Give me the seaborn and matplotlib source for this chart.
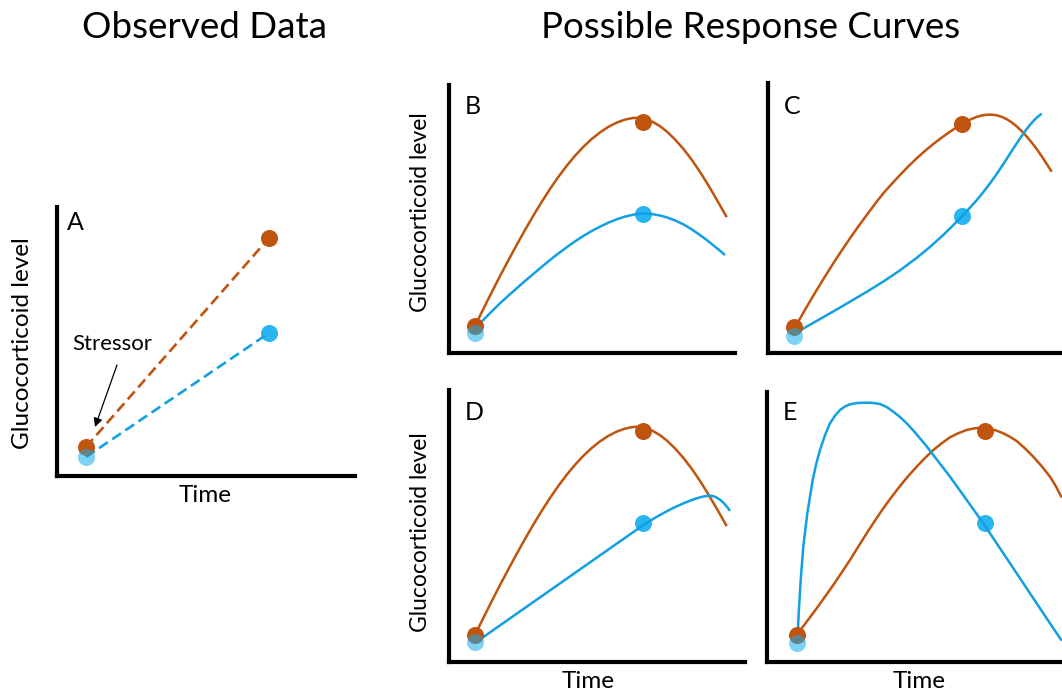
import matplotlib
matplotlib.use("Agg")
import matplotlib.pyplot as plt
import seaborn as sns

sns.set_theme(style="white")
plt.rcParams['font.family'] = ['Lato', 'DejaVu Sans']
plt.rcParams['text.color'] = 'black'

W, H = 1062, 692
ORANGE = "#C0540F"
BLUE = "#129FE3"
BLUE_DOT = "#12ADEF"
FW = "normal"

# ---------------- data (arbitrary units: time / glucocorticoid level) ----------------
# Panel A: observed data (two time points per group)
a_time = [29, 212]
a_orange = [29, 238]
a_blue = [19, 143]

# Panel B
b_or_t = [26, 31.8, 37.7, 44.3, 51, 59.3, 67.7, 76, 84.3, 92.7, 101, 109.3, 117.7, 126, 134.3,
          142.7, 151, 159.3, 167.7, 176, 184.3, 189, 193.7, 199, 204.3, 211, 217.7, 226, 234.3,
          242.7, 251, 257.7, 264.3, 271, 277.7]
b_or_y = [27, 38.9, 50.8, 63.9, 76.9, 92.6, 108.1, 123, 137.3, 151.1, 164, 176, 187.2, 197.2, 206.1,
          214, 220.6, 226.1, 230.4, 233.4, 235.1, 235.2, 234.4, 233.0, 230.8, 226.8, 221.6, 213.6, 204.2,
          193.3, 181.1, 170.4, 159.3, 147.7, 135.9]
b_bl_t = [29.3, 40.2, 51, 59.3, 67.7, 76, 84.3, 92.7, 101, 109.3, 117.7, 126, 134.3, 142.7, 151,
          159.3, 167.7, 176, 184.3, 189, 193.7, 199, 204.3, 211, 217.7, 226, 234.3, 242.7, 251, 257,
          264, 270, 276]
b_bl_y = [28, 39.0, 49.7, 57.3, 64.7, 72.0, 79, 86.1, 93, 99.5, 105.7, 111.6, 117, 122.0, 126.3,
          130.3, 133.7, 136.4, 138.3, 139.0, 139.3, 139.2, 138.7, 137.5, 135.7, 132.6, 128.7, 123.7, 118, 113.5,
          108, 103.1, 98]
b_dots_t = [26, 194]
b_dots_or = [27, 231]
b_dots_bl = [20, 139]

# Panel C
c_or_t = [27, 37.8, 48.7, 57, 65.3, 73.7, 82, 90.3, 98.7, 107, 115.3, 123.7, 132, 140.3, 148.7,
          157, 165.3, 173.7, 182, 187.8, 193.7, 198.7, 203.7, 208.7, 213.7, 218.7, 223.7, 228.7, 233.7,
          238.7, 243.7, 248.7, 253.7, 258.7, 263.7, 268.7, 273.7, 278.7, 283.7]
c_or_y = [25.7, 44.6, 63, 76.5, 89.7, 102.4, 114.7, 126.5, 138, 149.1, 159.7, 169.1, 178, 186.6, 194.7,
          202.1, 209, 215.4, 221.3, 225.1, 228.7, 231.6, 234.1, 236.1, 237.5, 238.25, 238.35, 237.7, 236.2,
          233.85, 230.65, 226.65, 221.9, 216.5, 210.5, 203.9, 196.75, 189.15, 181.25]
c_bl_t = [27, 48.7, 65, 82, 98.7, 115.3, 132, 148.7, 162, 175.3, 184.5, 193.7, 201, 208.7, 215,
          222, 228.7, 235.3, 242, 248.7, 253.7, 258.7, 262, 265.3, 268, 271, 273.7]
c_bl_y = [19.7, 32.1, 41.4, 51.3, 61.15, 71.45, 82.65, 95.15, 106.05, 118.05, 127.05, 136.75, 144.3, 152.8, 160.5,
          169.6, 179.0, 188.9, 199.3, 209.6, 217.0, 223.9, 228.1, 231.9, 234.7, 237.3, 239.3]
c_dots_t = [26, 194]
c_dots_or = [26, 229]
c_dots_bl = [17, 137]

# Panel D
d_or_t = list(b_or_t)
d_or_y = list(b_or_y)
d_bl_t = [27.7, 51, 84.3, 117.7, 151, 177.7, 194.3, 206, 217.7, 226, 234.3, 242.7, 251, 255,
          259, 263, 267, 271, 274.5, 278, 281]
d_bl_y = [20.3, 36.6, 59.9, 83.3, 106.6, 125.3, 136.9, 144.2, 150.7, 154.9, 158.6, 162.0, 164.7, 165.6,
          166.2, 166.3, 164.8, 162.3, 159.2, 155.2, 151.2]
d_dots_t = [26, 194]
d_dots_or = [27, 231]
d_dots_bl = [20, 139]

# Panel E
e_or_t = [29.7, 39.7, 49.7, 58, 66.3, 74.7, 83, 91.3, 99.7, 108, 116.3, 124.7, 133, 141.3, 149.7,
          158, 166.3, 174.7, 183, 191.3, 199.7, 208, 216.3, 223, 229.7, 236.3, 243, 249.7, 258,
          266.3, 274.7, 283, 289, 294.7]
e_or_y = [27, 40.3, 53.7, 65.3, 77, 89.5, 102, 115.4, 128.7, 141.4, 153.7, 165.2, 176, 186.0, 195.3,
          204.0, 212, 218.7, 224.7, 228.8, 232, 233.8, 234.3, 233.3, 231.3, 228.7, 225.2, 221, 213.6,
          205.3, 195.8, 185.3, 175.5, 164.5]
e_bl_t = [30.7, 31.7, 33.7, 36.3, 40.3, 45.7, 49.3, 53, 58, 63, 68, 73, 78, 83, 90, 98, 105, 113,
          120, 126.3, 133, 139.7, 146.3, 153, 159.7, 166.3, 183, 199.7, 216.3, 233, 249.7, 266.3,
          283, 294.7]
e_bl_y = [27, 48.7, 82, 115.3, 148.7, 182, 198.5, 212, 226.8, 238.7, 246.3, 252, 255.5, 257.7, 259.0,
          259.3, 259.2, 258, 254.8, 250.3, 245.0, 238.7, 231.5, 223.7, 215.6, 207, 185.3, 162, 138.7,
          113.7, 88.7, 63.7, 38.7, 21.3]
e_dots_t = [30, 218]
e_dots_or = [27, 231]
e_dots_bl = [19, 139]

x_label = "Time"
y_label = "Glucocorticoid level"
title_left = "Observed Data"
title_right = "Possible Response Curves"
stressor_label = "Stressor"

# ---------------- layout (pixel boxes: left, top, right, bottom) ----------------
boxes = {
    "A": (57, 207, 355, 476),
    "B": (449, 85, 735, 353),
    "C": (768, 83, 1090, 353),
    "D": (449, 390, 745, 662),
    "E": (767, 392, 1090, 662),
}

fig = plt.figure(figsize=(W / 100, H / 100), dpi=100)
axes = {}
for k, (l, t, r, b) in boxes.items():
    ax = fig.add_axes([l / W, (H - b) / H, (r - l) / W, (b - t) / H])
    ax.set_xlim(0, r - l)
    ax.set_ylim(0, b - t)
    ax.set_xticks([])
    ax.set_yticks([])
    for s in ["top", "right"]:
        ax.spines[s].set_visible(False)
    for s in ["left", "bottom"]:
        ax.spines[s].set_linewidth(3.0)
        ax.spines[s].set_color("black")
        ax.spines[s].set_capstyle("projecting")
    ax.patch.set_alpha(0)
    axes[k] = ax


def draw_curves(ax, or_t, or_y, bl_t, bl_y, dots_t, dots_or, dots_bl, dashed=False):
    ls = (0, (4, 2)) if dashed else "-"
    lw = 1.9 if dashed else 1.8
    for tt, yy, col in [(or_t, or_y, ORANGE), (bl_t, bl_y, BLUE)]:
        sns.lineplot(x=tt, y=yy, ax=ax, color=col, lw=lw, sort=False,
                     estimator=None, linestyle=ls, zorder=2,
                     solid_joinstyle="round", solid_capstyle="butt")
    sns.scatterplot(x=dots_t, y=dots_or, ax=ax, color=ORANGE, s=150,
                    linewidth=0, zorder=3)
    sns.scatterplot(x=dots_t[:1], y=dots_bl[:1], ax=ax, color=BLUE_DOT, s=150,
                    linewidth=0, alpha=0.55, zorder=4)
    sns.scatterplot(x=dots_t[1:], y=dots_bl[1:], ax=ax, color=BLUE_DOT, s=150,
                    linewidth=0, alpha=0.9, zorder=1.5)


# Panel A
ax = axes["A"]
draw_curves(ax, a_time, a_orange, a_time, a_blue, a_time, a_orange, a_blue, dashed=True)
ax.annotate("", xy=(38, 49), xytext=(60, 111),
            arrowprops=dict(arrowstyle="-|>", color="black", lw=0.9,
                            mutation_scale=13, shrinkA=0, shrinkB=0))
ax.text(55, 132, stressor_label, ha="center", va="center", fontsize=16, fontweight=FW)
ax.text(148, -19, x_label, ha="center", va="center", fontsize=17.5, fontweight=FW, clip_on=False)
ax.text(-34, 133, y_label, ha="center", va="center", rotation=90, fontsize=17.5,
        fontweight=FW, clip_on=False)
ax.text(10, 253, "A", ha="left", va="center", fontsize=18, fontweight=FW)

draw_curves(axes["B"], b_or_t, b_or_y, b_bl_t, b_bl_y, b_dots_t, b_dots_or, b_dots_bl)
draw_curves(axes["C"], c_or_t, c_or_y, c_bl_t, c_bl_y, c_dots_t, c_dots_or, c_dots_bl)
draw_curves(axes["D"], d_or_t, d_or_y, d_bl_t, d_bl_y, d_dots_t, d_dots_or, d_dots_bl)
draw_curves(axes["E"], e_or_t, e_or_y, e_bl_t, e_bl_y, e_dots_t, e_dots_or, e_dots_bl)

for k, (lx, ly) in {"B": (16, 246), "C": (16, 246), "D": (16, 250), "E": (16, 249)}.items():
    axes[k].text(lx, ly, k, ha="left", va="center", fontsize=18, fontweight=FW)

axes["B"].text(-29, 141, y_label, ha="center", va="center", rotation=90, fontsize=16.5,
               fontweight=FW, clip_on=False)
axes["D"].text(-29, 130, y_label, ha="center", va="center", rotation=90, fontsize=16.5,
               fontweight=FW, clip_on=False)
axes["D"].text(139, -20, x_label, ha="center", va="center", fontsize=17.5, fontweight=FW, clip_on=False)
axes["E"].text(152, -20, x_label, ha="center", va="center", fontsize=17.5, fontweight=FW, clip_on=False)

fig.text(204 / W, 1 - 28 / H, title_left, ha="center", va="center", fontsize=26.5, fontweight=FW)
fig.text(751 / W, 1 - 28 / H, title_right, ha="center", va="center", fontsize=26.5, fontweight=FW)

fig.savefig("out.png", dpi=100)
